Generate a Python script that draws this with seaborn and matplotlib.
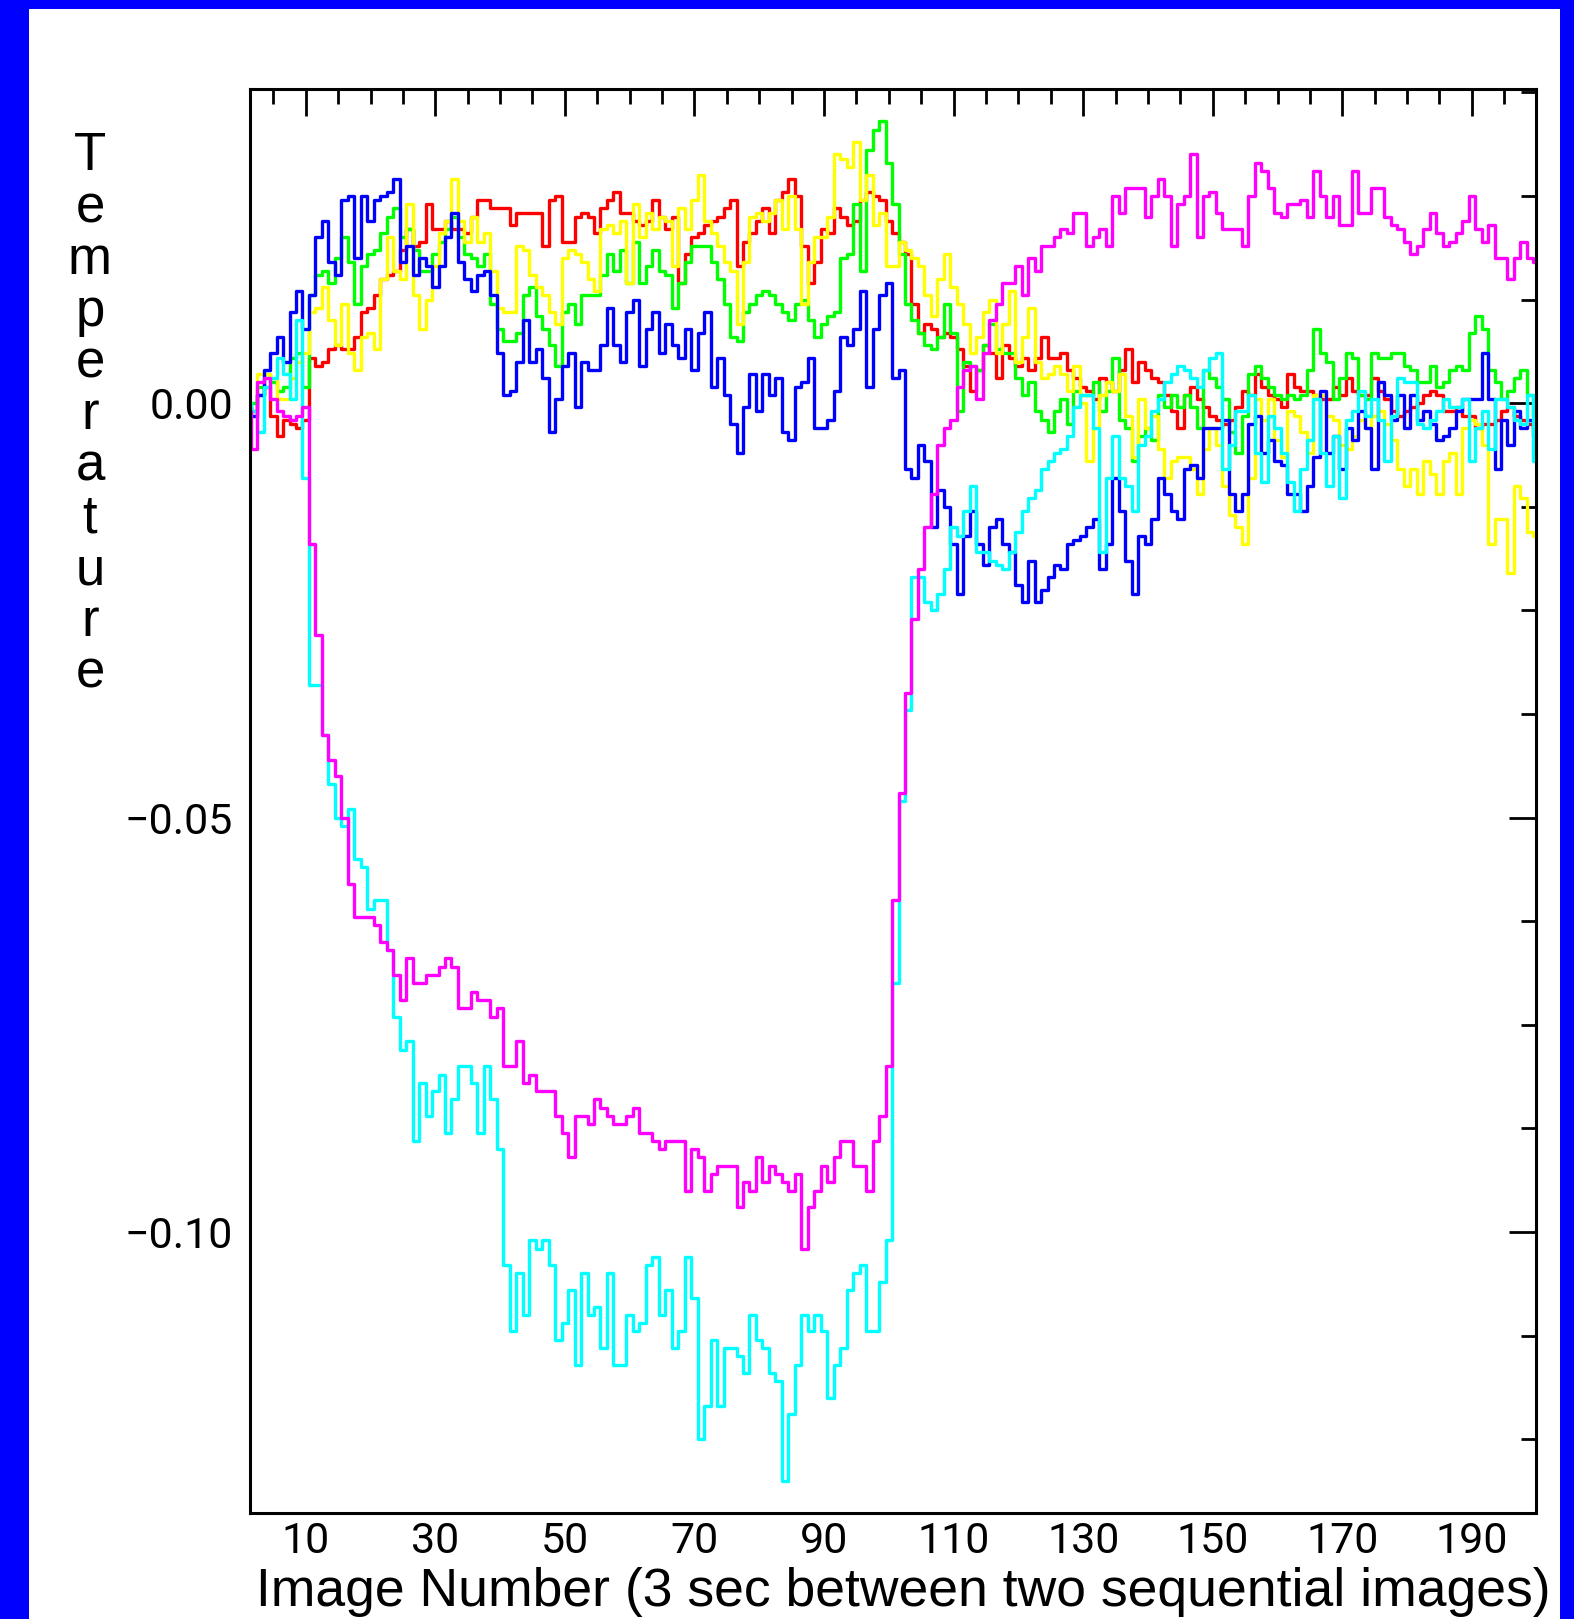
import numpy as np
import pandas as pd
import seaborn as sns
import matplotlib
matplotlib.use("Agg")
import matplotlib.pyplot as plt
from matplotlib.patches import Rectangle
from matplotlib.ticker import FixedLocator, MultipleLocator, FuncFormatter

# image number 1..200, temperature change in units of 1e-3
image = list(range(1, 201))

red = [-0.5, -1, 1, 2, -1.5, -4, -2, -2.5, -3, -2,
       5.5, 4.5, 5, 6.5, 7, 6.5, 6.5, 8, 11, 11.5,
       13, 15, 15.5, 16, 18.5, 21, 19, 19.5, 24, 21,
       21, 22, 21, 21, 20.5, 22.5, 24.5, 24.5, 23.5, 23.5,
       23.5, 21.5, 23, 23, 23, 23, 19, 24.5, 25, 19.5,
       19.5, 22.5, 23, 22.5, 20.5, 23.5, 24.5, 25.5, 23, 23,
       22, 21.5, 22, 24.5, 22.5, 21, 22.5, 14.5, 18, 20,
       20.5, 21.5, 22, 22.5, 23.5, 24.5, 16.5, 19.5, 20.5, 22,
       23.5, 20.5, 24.5, 25.5, 27, 25, 19, 14.5, 17, 21,
       20.5, 23.5, 22.5, 21.5, 22, 24.5, 25.5, 25, 24.5, 22,
       20.5, 19.5, 18, 12, 8.5, 9.5, 9, 8, 8.5, 8,
       6.5, 4.5, 1.5, 4, 7, 6, 3, 7, 5.5, 4.5,
       5.5, 4, 5.5, 8, 5.5, 5.5, 6, 4, 3, 2,
       1.5, 0.5, 3, 2.5, 1.5, 4, 6.5, 2.5, 5, 4,
       3, 2.5, 1, -1, -3, 1, 2, 0.5, -0.5, -1.5,
       -2, -2.5, -2, -0.5, 1.5, 1, 3.5, 2, 1, 0.5,
       -0.5, 3.5, 2, 1.5, 1.5, 1, 0.5, 0.5, 2, 1,
       3, 1.5, 1, 1, 3, 1.5, 0.5, -1, -1.5, -1,
       -0.5, 0, 1, 1.5, 1, -1, -1, -0.5, -1.5, -1.5,
       -3, -2.5, -2.5, -2, -1, -0.5, -1.5, -2, -2.5, -4]

green = [-0.5, 0, 2, 3.5, 2.5, 1.5, 2, 5.5, 6, 2,
         13, 15.5, 16, 14.5, 17.5, 20, 17, 12, 16.5, 18,
         18.5, 20.5, 22.5, 23.5, 20, 21, 18.5, 16, 16, 18,
         19.5, 21, 22.5, 20, 18, 17.5, 16.5, 18, 12, 9,
         7.5, 7.5, 8.5, 13, 14, 10.5, 9, 7, 4.5, 11,
         12, 9.5, 13, 13, 13, 15.5, 18, 16, 18.5, 14.5,
         19.5, 14.5, 16.5, 18.5, 16, 15.5, 11.5, 14.5, 17, 19,
         19, 19, 17, 15, 12, 8, 7.5, 11, 12, 13,
         13.5, 13, 12, 11, 10, 12, 12.5, 10, 8, 9.5,
         10.5, 11, 17.5, 18, 24, 16, 30.5, 33, 34, 29,
         24, 18, 12, 10, 8.5, 7, 6.5, 8, 12, 8.5,
         -1, 5, 4.5, 4, 7, 9.5, 6.5, 6, 6, 3,
         1, 2.5, -1, -2, -3.5, -1, 0.5, -2.5, 1.5, 1,
         1, 2.5, -1, 1.5, 5.5, -2, -3, -7, -4, -3,
         -4.5, 1, -0.5, 1, -0.5, 1, -0.5, -3, 4, 3,
         2, 0.5, -3.5, -6, -1.5, 3.5, 4.5, 3, 2, 1,
         0.5, 1, 0.5, 1, 4, 9, 6, 5, 0.5, 3,
         6, 5.5, 1, 0.5, 6, 5.5, 5.5, 6, 6, 4.5,
         4, 2.5, 2.5, 4.5, 2, 2.5, 4, 4.5, 4, 8.5,
         10.5, 9, 4, 2.5, 0.5, 1.5, 3, 4, 1, -1.5]

yellow = [-1, -1.5, 3.5, 3.5, 3, 0.5, 0.5, 3, 5, 6,
          11, 11.5, 14, 10, 7, 12, 6, 4, 8, 8.5,
          6.5, 15, 20, 16, 15, 24, 13, 9, 12.5, 16.5,
          20.5, 22, 27, 22, 19.5, 22.5, 19.5, 20.5, 16, 11.5,
          11, 11, 19, 18.5, 15.5, 14, 13, 11, 9.5, 17.5,
          18.5, 18, 17, 15, 13.5, 21, 21.5, 20.5, 22, 14.5,
          24, 20, 23, 21, 22.5, 22, 16.5, 23.5, 21, 24.5,
          27.5, 22, 20.5, 19, 17, 16, 9.5, 17, 22.5, 23,
          22, 23, 24.5, 21, 25, 21, 12, 17, 20, 20,
          22.5, 30, 29.5, 28.5, 31.5, 24.5, 27.5, 21.5, 23, 16.5,
          16.5, 19.5, 18.5, 17.5, 16.5, 13, 10.5, 15, 18, 14,
          12, 9.5, 6, 8, 11, 12.5, 6, 9.5, 13.5, 5,
          8, 11.5, 5, 3, 3.5, 4.5, 3.5, 1.5, 4.5, 0,
          -7, -3, 1, 2.5, 1.5, 3.5, -1.5, -6.5, 0.5, -3,
          -1.5, -5.5, -9, -7, -6.5, -6.5, -8, -11, -5.5, -3,
          -5, -10, -13.5, -15, -17, -9, 0.5, -2, 0.5, -4.5,
          -6.5, -1, -1.5, -3.5, -6, 1, 1, -1.5, -2, -5,
          -5.5, -4, -2, -3, -1.5, -1, -2.5, -4.5, -8, -10,
          -8, -11, -7, -8.5, -11, -7, -6, -11, -3, -2,
          -2.5, -5, -17, -14, -14, -20.5, -10, -11.5, -15.5, -16]

blue = [-0.5, -1.5, 1, 4, 6, 8, 5, 11, 13.5, 9,
        13, 20, 22, 17, 15.5, 24.5, 25, 17.5, 25, 22,
        24.5, 25, 25.5, 27, 17, 19, 15.5, 17.5, 16.5, 14,
        16.5, 20, 23, 17, 15, 13.5, 15.5, 16, 13, 6,
        1, 1.5, 5, 10, 5, 6.5, 3, -3.5, 0.5, 4.5,
        6, -0.5, 5, 4, 4, 7, 11.5, 7, 5, 11,
        12.5, 4.5, 9, 11, 6, 9.5, 7, 5.5, 9, 4,
        8.5, 11, 2, 5.5, 1, -2.5, -6, -0.5, 3.5, -1,
        3.5, 1, 3, -3.5, -4.5, 2, 2.5, 5.5, -3, -3,
        -2, 1.5, 8, 7, 9, 13.5, 2, 9, 13, 14.5,
        3, 4, -8, -9, -5, -7, -15, -10.5, -12.5, -17,
        -23, -16, -13, -17, -19.5, -15, -14, -17, -18, -22,
        -24, -19, -24, -22.5, -21, -19.5, -20, -17, -16.5, -16,
        -15, -14, -20, -17, -9, -13, -19, -23, -16, -17,
        -14, -9, -11, -13, -14, -8, -7.5, -9, -3, -3,
        -3, -2, -11, -13, -11, -2.5, -1.5, -6, -4.5, -7,
        -7.5, -11, -11, -13, -10, -6.5, 1.5, -6, -4, -8,
        -3, -4.5, -1, -3, -8, 2.5, 1, -2, 1, -3,
        1, -2, -1, -2.5, -4.5, -4, -3, -1, 0.5, 0.5,
        0.5, 6, 0.5, -8, -2, -5, -1, -3, -2, -3]

cyan = [0, -1, -3.5, 2, 3, 5.5, 3.5, 0.5, 10, -9,
        -34, -34, -40, -46, -50, -51, -49, -55, -56, -61,
        -60, -60, -66, -74, -78, -77, -89, -82, -86, -83,
        -81, -88, -84, -80, -80, -82, -88, -80, -84, -90,
        -104, -112, -105, -110, -101, -102, -101, -104, -113, -111,
        -107, -116, -105, -110, -109, -114, -105, -116, -116, -110,
        -112, -111, -104, -103, -110, -107, -114, -112, -103, -108,
        -125, -121, -113, -121, -114, -114, -115, -117, -110, -113,
        -114, -117, -118, -130, -122, -116, -110, -112, -110, -112,
        -120, -116, -114, -107, -105, -104, -112, -112, -106, -101,
        -70, -48, -37, -21, -21, -24, -25, -23, -20, -15,
        -16, -13, -10, -18, -18, -19, -19.5, -20, -18, -15.5,
        -13, -11.5, -10.5, -8, -7, -6, -5.5, -4, -0.5, 1,
        1, -3, -18, -9, -4, -9, -10, -13, -5, -4,
        -1, 0.5, 2.5, 3.5, 4.5, 4, 3, 2, 4, 5.5,
        6, -8, -5, -1, -1, 1, -6, -9.5, -1.5, -3,
        -6, -9.5, -13, -8, -4.5, 0.5, -6, -10, -4, -11.5,
        -2, -1, 1.5, -1.5, 0.5, -2, -7, -1.5, 3, 2.5,
        2.5, -2.5, -3, -2, -1, 0.5, -0.5, -0.5, 0.5, -7,
        -3, -1, -5.5, 0.5, 0.5, -0.5, -2, -2.5, 1, -7]

magenta = [-1, -5.5, 2.5, 3, 0.5, -1, -1.5, -2, -1.5, -0.5,
           -17, -28, -40, -43, -45, -50, -58, -62, -62, -62,
           -63, -65, -66, -69, -72, -67, -70, -70, -69, -69,
           -68, -67, -68, -73, -73, -71, -72, -72, -74, -73,
           -80, -80, -77, -82, -81, -83, -83, -83, -86, -88,
           -91, -86, -86, -87, -84, -85, -86, -87, -87, -86,
           -85, -88, -88, -89, -90, -89, -89, -89, -95, -90,
           -91, -95, -93, -92, -92, -92, -97, -94, -95, -91,
           -94, -92, -93, -94, -95, -93, -102, -97, -95, -92,
           -94, -91, -89, -89, -92, -92, -95, -89, -86, -80,
           -60, -47, -35, -26, -20, -15, -11, -5, -3, -2,
           2, 4, 4.5, 0.5, 6, 10, 12, 14.5, 14.5, 16.5,
           13, 17.5, 16, 19, 19, 20, 21, 20.5, 23, 23,
           19, 20, 21, 19, 25, 23, 26, 26, 26, 22.5,
           25, 27, 25, 19, 24, 25, 30, 20, 25, 25.5,
           23, 21, 21, 21, 19, 25, 29, 28, 26, 23,
           22.5, 24, 24, 24.5, 22.5, 28, 25, 22.5, 25, 21.5,
           21.5, 28, 23, 23, 26, 26, 22.5, 21.5, 21, 19.5,
           18, 19, 21, 23, 20.5, 19, 19.5, 20.5, 22, 25,
           21, 19.5, 21.5, 17.5, 17.5, 15, 17.5, 19.5, 17.5, 17]

series_names = ["red", "green", "yellow", "blue", "cyan", "magenta"]
palette = {"red": "#ff0000", "green": "#00ff00", "yellow": "#ffff00",
           "blue": "#0000ff", "cyan": "#00ffff", "magenta": "#ff00ff"}

frames = []
for name, vals in zip(series_names, [red, green, yellow, blue, cyan, magenta]):
    frames.append(pd.DataFrame({"image": image,
                                "temp": np.array(vals) / 1000.0,
                                "series": name}))
df = pd.concat(frames, ignore_index=True)

sns.set_style("white")
plt.rcParams['font.family'] = ['Liberation Sans', 'DejaVu Sans']

W, H = 1574, 1619
fig = plt.figure(figsize=(W / 100, H / 100), dpi=100)
fig.patch.set_facecolor("#0000ff")
fig.add_artist(Rectangle((29 / W, 0), (1560 - 29) / W, 1 - 9 / H,
                         transform=fig.transFigure, facecolor="white",
                         edgecolor="none", zorder=-10))

ax = fig.add_axes([250 / W, 1 - 1513 / H, (1536 - 250) / W, (1513 - 89) / H])

sns.lineplot(data=df, x="image", y="temp", hue="series", hue_order=series_names,
             palette=palette, estimator=None, sort=False, legend=False,
             drawstyle="steps-mid", linewidth=2.4, ax=ax)

ax.set_xlim(1.4, 199.9)
ax.set_ylim(-0.1339, 0.0379)
ax.set_xlabel("")
ax.set_ylabel("")

ax.xaxis.set_major_locator(FixedLocator(list(range(10, 200, 20))))
ax.xaxis.set_minor_locator(MultipleLocator(5))
ax.yaxis.set_major_locator(MultipleLocator(0.05))
ax.yaxis.set_minor_locator(MultipleLocator(0.0125))


def yfmt(v, pos):
    if abs(v) < 1e-9:
        v = 0.0
    return f"{v:.2f}".replace("-", "\u2212")


ax.yaxis.set_major_formatter(FuncFormatter(yfmt))

ax.tick_params(which="both", direction="in", top=True, right=True,
               width=2.0, color="black")
ax.tick_params(which="major", length=19.5)
ax.tick_params(which="minor", length=10.5)
ax.tick_params(axis="x", which="major", pad=6, labelsize=31, labelcolor="black")
ax.tick_params(axis="y", which="major", pad=12, labelsize=31, labelcolor="black")
for lab in ax.get_xticklabels() + ax.get_yticklabels():
    lab.set_family(["Roboto", "DejaVu Sans"])
    lab.set_fontweight("normal")

for sp in ax.spines.values():
    sp.set_visible(True)
    sp.set_color("black")
    sp.set_linewidth(2.2)

# x label near the bottom edge
fig.text(903 / W, 1 - 1606 / H, "Image Number (3 sec between two sequential images)",
         ha="center", va="baseline", fontsize=38.5, color="black")

# y label: stacked letters
word = "Temperature"
for i, ch in enumerate(word):
    yb = 170.4 + i * 51.75
    fig.text(90 / W, 1 - yb / H, ch, ha="center", va="baseline",
             fontsize=38, color="black")

fig.savefig("out.png", dpi=100, facecolor=fig.get_facecolor())
